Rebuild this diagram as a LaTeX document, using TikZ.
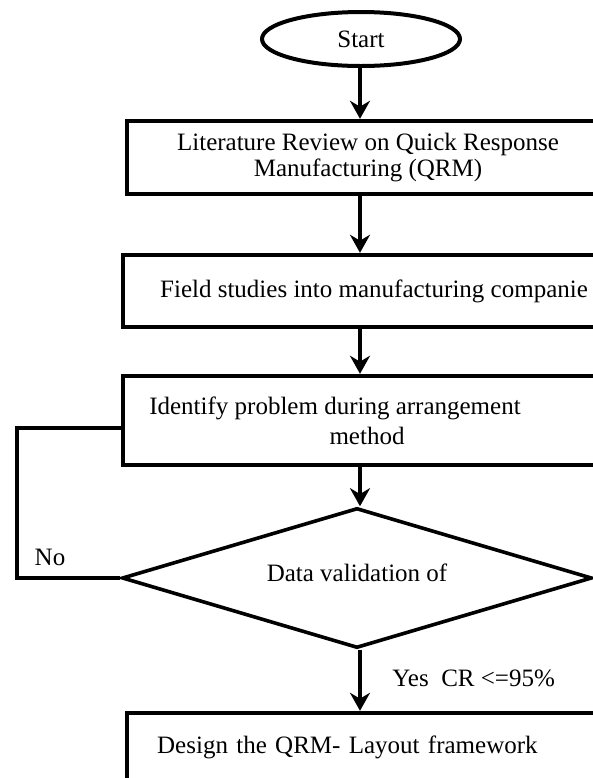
\documentclass[tikz,border=0pt]{standalone}
\usepackage{fontspec}
\setmainfont{Liberation Serif}
\usepackage{tikz}
\usetikzlibrary{arrows.meta,shapes.geometric}

\begin{document}
\begin{tikzpicture}[x=0.5pt,y=-0.5pt]
            \tikzset{every node/.style = {font=\fontsize{12.5pt}{13pt}\selectfont, inner sep=0pt}}
            \tikzset{stepbox/.style = {draw, rectangle, line width=2.2pt, align=center}}
            \tikzset{terminal/.style = {draw, ellipse, line width=2pt, minimum width=99pt, minimum height=27pt}}
            \tikzset{decision/.style = {draw, diamond, line width=1.8pt, shape aspect=3.36,
                                        minimum width=235pt, minimum height=70pt}}
            \tikzset{flow/.style = {line width=2pt, -{Stealth[length=9pt,width=10pt]}}}
            \tikzset{back/.style = {line width=2pt, line join=miter}}

            \useasboundingbox (0,0) rectangle (593,778);
            \clip (0,0) rectangle (593,778);

            % vertices
            \node[terminal] (start) at (361,39) {Start};
            \node[stepbox, minimum width=241pt, minimum height=36.5pt] (lit) at (368,157.5)
              {Literature Review on Quick Response\\Manufacturing (QRM)};
            \node[stepbox, minimum width=251pt, minimum height=36pt] (field) at (374,291)
              {Field studies into manufacturing companie};
            \node[stepbox, minimum width=244pt, minimum height=44.5pt] (ident) at (367,420.5)
              {Identify problem during arrangement\hspace*{32pt}\\[2pt]method};
            \node[decision] (dec) at (357,578) {\raisebox{5pt}{Data validation of}};
            \node[stepbox, anchor=west, minimum width=257.5pt, minimum height=34pt,
                  text width=227.5pt, inner xsep=15pt, align=left] (design) at (125,747)
              {Design the QRM- Layout framework};
            \node (no) at (50,557) {No};
            \node[anchor=west] (yes) at (392,678) {Yes\ \ CR <=95\%};

            % edges
            \coordinate (axis) at (360,0);
            \foreach \a/\b in {start/lit, lit/field, field/ident, ident/dec, dec/design}
            {
              \draw[flow] (axis |- \a.south) -- (axis |- \b.north);
            }
            \coordinate (turn) at (17,578);
            \coordinate (up) at (17,428);
            \draw[back] (dec.west) -- (turn) -- (up) -- (up -| ident.west);

          \end{tikzpicture}
\end{document}
